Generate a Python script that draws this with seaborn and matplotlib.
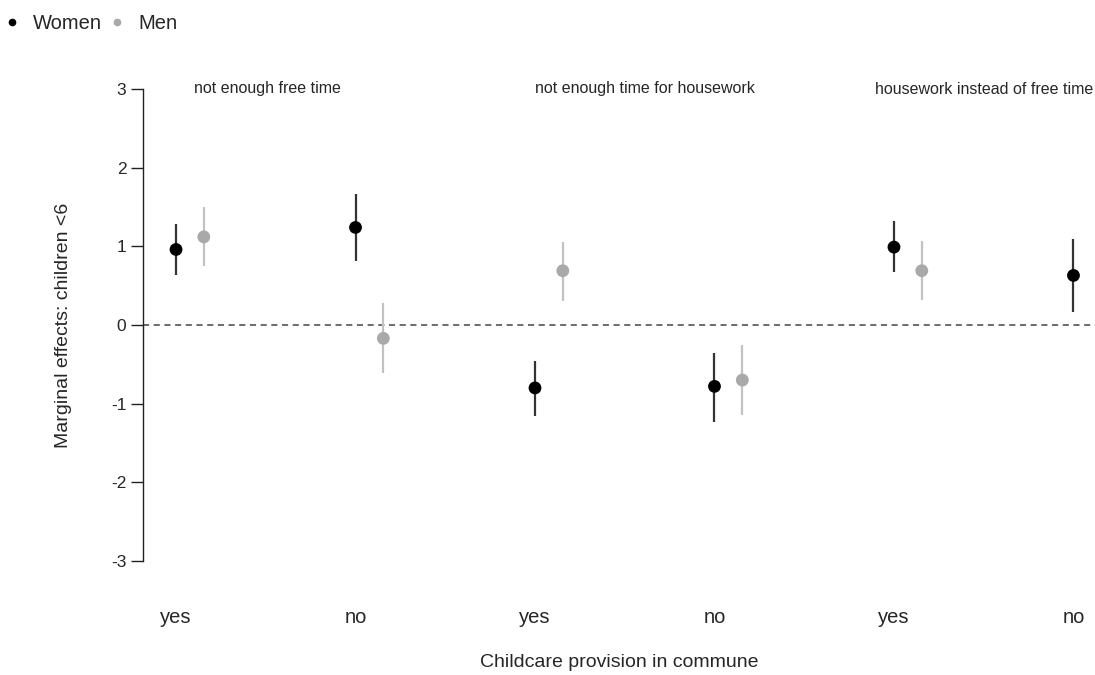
import numpy as np
import pandas as pd
import matplotlib
matplotlib.use("Agg")
import matplotlib.pyplot as plt
import seaborn as sns
from matplotlib.lines import Line2D

# ---- data ----
categories = ["yes", "no", "yes", "no", "yes", "no"]
panel_titles = ["not enough free time", "not enough time for housework", "housework instead of free time"]

women_est = [0.96, 1.24, -0.80, -0.78, 0.99, 0.63]
women_lo = [0.63, 0.81, -1.16, -1.23, 0.67, 0.16]
women_hi = [1.28, 1.67, -0.46, -0.36, 1.32, 1.09]

men_est = [1.12, -0.17, 0.69, -0.70, 0.69, np.nan]
men_lo = [0.75, -0.61, 0.31, -1.14, 0.32, np.nan]
men_hi = [1.50, 0.28, 1.06, -0.25, 1.07, np.nan]

yticks = [-3, -2, -1, 0, 1, 2, 3]

# ---- build long table ----
rows = []
for i in range(len(categories)):
    rows.append(dict(pos=i, group="Women", est=women_est[i], lo=women_lo[i], hi=women_hi[i]))
    rows.append(dict(pos=i, group="Men", est=men_est[i], lo=men_lo[i], hi=men_hi[i]))
df = pd.DataFrame(rows).dropna()
offset = {"Women": 0.0, "Men": 0.155}
df["x"] = df["pos"] + df["group"].map(offset)

sns.set_theme(style="white")
plt.rcParams["font.family"] = ["Liberation Sans", "DejaVu Sans"]

fig = plt.figure(figsize=(10.95, 6.75), dpi=100)
ax = fig.add_axes([143 / 1095, (675 - 561) / 675, 1 - 143 / 1095, (561 - 89) / 675])

point_col = {"Women": "#000000", "Men": "#a9a9a9"}
line_col = {"Women": "#333333", "Men": "#c2c2c2"}

for g in ["Women", "Men"]:
    sub = df[df["group"] == g]
    ax.vlines(sub["x"], sub["lo"], sub["hi"], color=line_col[g], lw=1.6, zorder=2)

sns.scatterplot(data=df, x="x", y="est", hue="group", palette=point_col,
                s=85, edgecolor="none", legend=False, ax=ax, zorder=3)

ax.axhline(0, color="#444444", lw=1.1, ls=(0, (4, 3)), zorder=1)

ax.set_xlim(-0.184, 5.12)
ax.set_ylim(-3, 3)
ax.set_yticks(yticks)
ax.set_yticklabels([str(t) for t in yticks], fontsize=12.5)
ax.set_xticks(range(len(categories)))
ax.set_xticklabels(categories, fontsize=14.5)
ax.tick_params(axis="y", direction="out", length=9, width=1, color="#222222", pad=3, left=True)
ax.tick_params(axis="x", length=0, pad=33.5)

for s in ["top", "right", "bottom"]:
    ax.spines[s].set_visible(False)
ax.spines["left"].set_color("#222222")
ax.spines["left"].set_linewidth(1.0)

ax.set_xlabel("Childcare provision in commune", fontsize=14)
ax.xaxis.set_label_coords(0.5, -0.197)
ax.set_ylabel("Marginal effects: children <6", fontsize=14)
ax.yaxis.set_label_coords(-0.075, 0.5)

title_x = [0.51, 2.61, 4.5]
for tx, t in zip(title_x, panel_titles):
    ax.text(tx, 3, t, ha="center", va="center", fontsize=11.5, clip_on=False)

handles = [Line2D([], [], marker="o", ls="", color=point_col["Women"], markersize=4.5),
           Line2D([], [], marker="o", ls="", color=point_col["Men"], markersize=4.5)]
fig.legend(handles, ["Women", "Men"], loc="upper left", bbox_to_anchor=(-0.013, 1.0),
           ncol=2, frameon=False, fontsize=14.5, handletextpad=0.45, columnspacing=0.15,
           handlelength=1.2, borderaxespad=0.3)

fig.savefig("out.png", dpi=100)
